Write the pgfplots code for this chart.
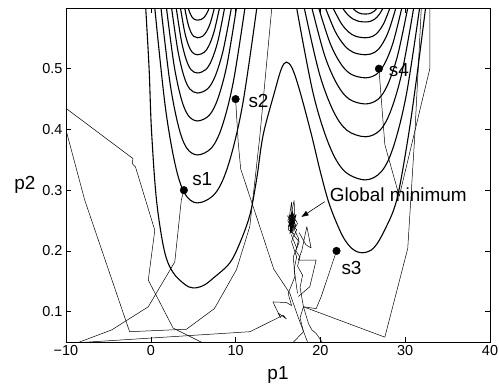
\documentclass[border=0pt]{standalone}
\usepackage{pgfplots}
\pgfplotsset{compat=1.18}
\usepackage{fontspec}
\setmainfont{Liberation Sans}
\usetikzlibrary{arrows.meta}
\pgfplotsset{
  cline/.style={black, line width=1.1bp, smooth, tension=0.55, mark=none},
  traj/.style={black, line width=0.5bp, line join=round, mark=none},
}
\begin{document}
\begin{tikzpicture}
\begin{axis}[
  scale only axis, width=424bp, height=334bp,
  xmin=-10, xmax=40, ymin=0.05, ymax=0.6,
  xtick={-10,0,10,20,30,40}, xticklabels={−10,0,10,20,30,40},
  ytick={0.1,0.2,0.3,0.4,0.5}, yticklabels={0.1,0.2,0.3,0.4,0.5},
  tick align=inside, major tick length=5bp,
  tick style={black, line width=0.6bp},
  axis line style={line width=1bp},
  /pgf/number format/assume math mode=true,
  ticklabel style={font=\fontsize{14.5}{16}\selectfont},
  label style={font=\fontsize{19}{21}\selectfont},
  xlabel={p1}, ylabel={p2},
  xlabel style={at={(axis description cs:0.5,-0.099)}, anchor=center},
  ylabel style={at={(axis description cs:-0.097,0.47)}, rotate=-90, anchor=center},
]
% ---- left valley contours
\addplot[cline] coordinates {(4.4,0.6) (4.67,0.59) (4.92,0.584) (5.17,0.581) (5.5,0.58) (5.92,0.581) (6.24,0.584) (6.56,0.59) (6.9,0.6)};
\addplot[cline] coordinates {(4.0,0.6) (4.36,0.5755) (4.71,0.5608) (5.05,0.5535) (5.5,0.551) (6.10,0.5535) (6.55,0.5608) (7.02,0.5755) (7.5,0.6)};
\addplot[cline] coordinates {(3.5,0.6) (3.98,0.5615) (4.45,0.5384) (4.9,0.5269) (5.5,0.523) (6.29,0.5269) (6.87,0.5384) (7.47,0.5615) (8.1,0.6)};
\addplot[cline] coordinates {(3.0,0.6) (3.6,0.5465) (4.19,0.5144) (4.75,0.4984) (5.5,0.493) (6.47,0.4984) (7.18,0.5144) (7.93,0.5465) (8.7,0.6)};
\addplot[cline] coordinates {(2.45,0.6) (3.19,0.53) (3.9,0.488) (4.58,0.467) (5.5,0.46) (6.71,0.467) (7.6,0.488) (8.53,0.53) (9.5,0.6)};
\addplot[cline] coordinates {(1.85,0.6) (2.73,0.507) (3.58,0.4512) (4.4,0.4233) (5.5,0.414) (6.89,0.4233) (7.92,0.4512) (8.99,0.507) (10.1,0.6)};
\addplot[cline] coordinates {(1.2,0.6) (2.24,0.479) (3.24,0.4064) (4.2,0.3701) (5.5,0.358) (7.19,0.3701) (8.44,0.4064) (9.74,0.479) (11.1,0.6)};
\addplot[cline] coordinates {(0.47,0.6) (1.69,0.4395) (2.86,0.3432) (3.98,0.295) (5.5,0.279) (7.61,0.295) (9.18,0.3432) (10.81,0.4395) (12.5,0.6)};
% ---- right valley contours
\addplot[cline] coordinates {(23.8,0.6) (24.16,0.595) (24.51,0.592) (24.85,0.5905) (25.3,0.59) (25.72,0.5905) (26.03,0.592) (26.36,0.595) (26.7,0.6)};
\addplot[cline] coordinates {(22.6,0.6) (23.25,0.5885) (23.88,0.5816) (24.48,0.5782) (25.3,0.577) (25.93,0.5782) (26.4,0.5816) (26.89,0.5885) (27.4,0.6)};
\addplot[cline] coordinates {(21.5,0.6) (22.42,0.5755) (23.3,0.5608) (24.15,0.5535) (25.3,0.551) (26.18,0.5535) (26.82,0.5608) (27.5,0.5755) (28.2,0.6)};
\addplot[cline] coordinates {(20.6,0.6) (21.74,0.5615) (22.83,0.5384) (23.88,0.5269) (25.3,0.523) (26.39,0.5269) (27.19,0.5384) (28.03,0.5615) (28.9,0.6)};
\addplot[cline] coordinates {(19.8,0.6) (21.13,0.5425) (22.41,0.508) (23.64,0.4908) (25.3,0.485) (26.6,0.4908) (27.56,0.508) (28.56,0.5425) (29.6,0.6)};
\addplot[cline] coordinates {(19.0,0.6) (20.52,0.521) (22.0,0.4736) (23.4,0.4499) (25.3,0.442) (26.81,0.4499) (27.93,0.4736) (29.09,0.521) (30.3,0.6)};
\addplot[cline] coordinates {(18.1,0.6) (19.84,0.494) (21.52,0.4304) (23.13,0.3986) (25.3,0.388) (27.02,0.3986) (28.29,0.4304) (29.62,0.494) (31.0,0.6)};
\addplot[cline] coordinates {(17.2,0.6) (19.16,0.4585) (21.05,0.3736) (22.85,0.3312) (25.3,0.317) (27.23,0.3312) (28.66,0.3736) (30.15,0.4585) (31.7,0.6)};
% ---- outer W contour
\addplot[cline] coordinates {(-0.6,0.6) (-0.2,0.5) (0.08,0.399) (0.67,0.284) (1.6,0.2) (2.6,0.165) (4.0,0.145) (5.0,0.139) (6.2,0.143) (7.35,0.155) (9.3,0.18) (10.5,0.213) (11.7,0.26) (12.5,0.32) (13.25,0.391) (14.6,0.462) (15.4,0.5) (16.0,0.511) (16.7,0.5) (17.6,0.462) (18.95,0.391) (20.0,0.33) (21.1,0.275) (22.6,0.225) (23.8,0.203) (25.0,0.197) (26.3,0.205) (27.6,0.235) (29.0,0.284) (30.3,0.383) (31.3,0.48) (32.4,0.6)};
% ---- trajectories
\addplot[traj] coordinates {(-10.5,0.44) (-2.1,0.352) (-2.2,0.344) (-1.8,0.338) (0.47,0.234) (-0.3,0.152) (2.63,0.073) (6.5,0.046)};
\addplot[traj] coordinates {(-10.5,0.40) (-9.94,0.396) (-7.8,0.284) (-2.5,0.067) (4.2,0.071) (7.5,0.105) (10.1,0.169) (11.67,0.24) (12.85,0.388) (14.4,0.62)};
\addplot[traj] coordinates {(3.9,0.30) (3.6,0.284) (2.83,0.182) (-0.3,0.108) (-4.6,0.07) (-8.4,0.05) (-9.5,0.045)};
\addplot[traj] coordinates {(-9.5,0.048) (11.7,0.067) (15.6,0.094) (16.0,0.088) (15.0,0.098) (15.3,0.09) (14.4,0.116) (16.0,0.115) (16.6,0.11) (16.2,0.13) (17.0,0.158) (16.8,0.19) (17.2,0.205) (16.6,0.225) (16.9,0.24)};
\addplot[traj] coordinates {(10,0.45) (10.3,0.38) (10.6,0.335) (12.85,0.24) (14.5,0.17) (16.4,0.13) (17.4,0.09) (18.4,0.053) (18.6,0.045)};
\addplot[traj] coordinates {(21.9,0.2) (20.1,0.125) (19.5,0.105) (18.0,0.108)};
\addplot[traj] coordinates {(26.9,0.5) (27.6,0.375) (29.3,0.29) (32.9,0.5) (32.9,0.65)};
\addplot[traj] coordinates {(31.9,0.65) (31.9,0.6) (31.1,0.383) (30.3,0.204) (27.6,0.058) (18.0,0.108)};
\addplot[traj] coordinates {(18.0,0.108) (18.6,0.08) (19.0,0.07) (19.5,0.064) (20.3,0.048)};
\addplot[traj] coordinates {(16.7,0.048) (18.0,0.067) (17.6,0.09) (18.0,0.108)};
\addplot[traj] coordinates {(17.4,0.125) (18.75,0.141) (19.5,0.185) (17.4,0.185) (17.8,0.2) (18.4,0.24) (18.9,0.205) (18.3,0.21) (17.5,0.23)};
\addplot[traj] coordinates {(18.0,0.108) (17.6,0.14) (17.9,0.16) (17.3,0.175) (17.6,0.19) (17.1,0.2) (17.5,0.215) (16.9,0.225) (17.2,0.235) (16.5,0.245) (17.0,0.255) (16.3,0.25) (16.8,0.238) (16.4,0.262) (16.6,0.28) (16.7,0.255) (16.2,0.24) (17.0,0.248) (16.4,0.236) (16.9,0.262) (16.5,0.252) (16.1,0.258) (16.8,0.245) (16.6,0.233) (16.3,0.244) (17.1,0.24) (16.7,0.26) (16.45,0.242) (16.95,0.252) (16.6,0.248)};
\addplot[traj] coordinates {(17.3,0.13) (16.9,0.17) (17.2,0.19) (16.6,0.215) (16.9,0.228) (16.2,0.235) (16.7,0.27) (16.9,0.283) (17.0,0.25) (16.3,0.26) (16.55,0.23) (17.15,0.26) (16.35,0.248) (16.8,0.232) (16.15,0.25) (16.75,0.265) (16.5,0.24) (17.05,0.243) (16.25,0.255) (16.85,0.25) (16.4,0.228) (16.65,0.262) (17.3,0.245) (16.9,0.236) (17.45,0.22) (17.2,0.205)};
% ---- start points
\addplot[only marks, mark=*, mark size=3.8bp, black] coordinates {(3.9,0.30) (10,0.45) (21.9,0.2) (26.9,0.5)};
% ---- annotations
\node[font=\fontsize{19}{21}\selectfont] at (axis cs:6.07,0.3185) {s1};
\node[font=\fontsize{19}{21}\selectfont] at (axis cs:12.7,0.447) {s2};
\node[font=\fontsize{19}{21}\selectfont] at (axis cs:23.67,0.1727) {s3};
\node[font=\fontsize{19}{21}\selectfont] at (axis cs:29.25,0.497) {s4};
\node[font=\fontsize{19}{21}\selectfont, anchor=west, inner sep=0pt] at (axis cs:21.1,0.293) {Global minimum};
\draw[-{Triangle[length=7bp,width=5bp]}, line width=0.6bp] (axis cs:20.5,0.281) -- (axis cs:17.77,0.256);
\end{axis}
\pgfresetboundingbox
\path[use as bounding box] ([xshift=-66bp,yshift=-42bp]current axis.south west) rectangle ([xshift=9bp,yshift=8bp]current axis.north east);
\end{tikzpicture}
\end{document}
